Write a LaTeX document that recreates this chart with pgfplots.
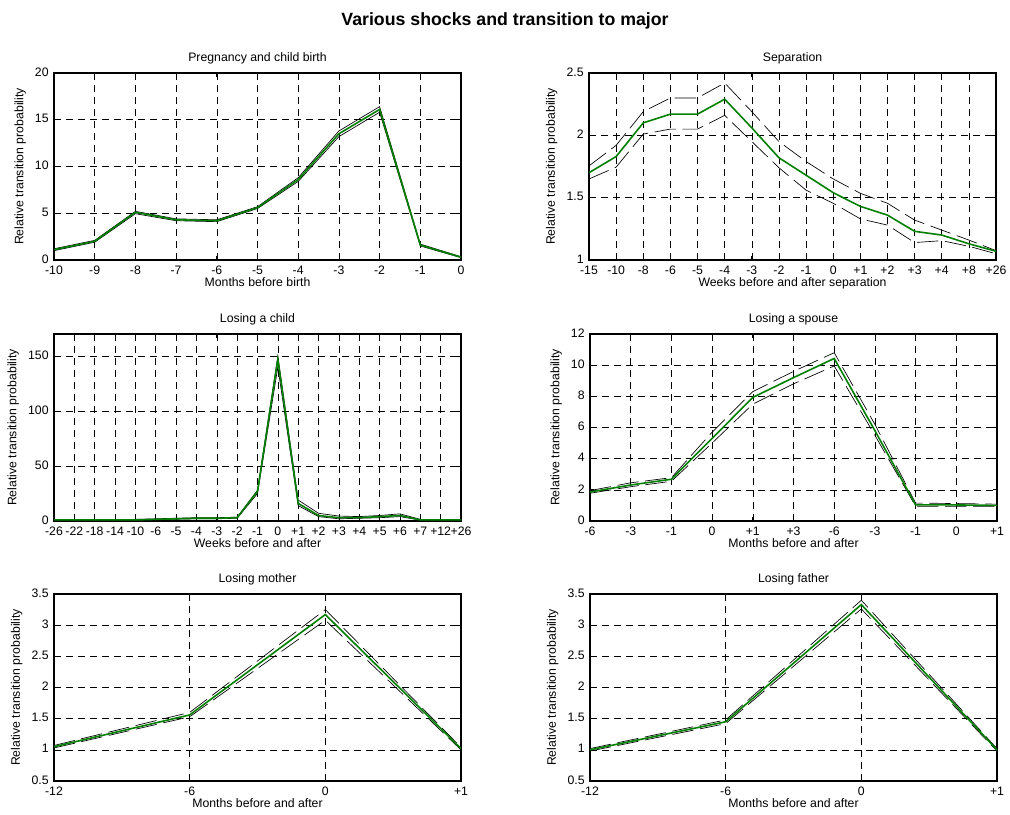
\documentclass[border=0pt]{standalone}
\usepackage{fontspec}
\setmainfont{Liberation Sans}
\usepackage{pgfplots}
\pgfplotsset{compat=1.18}
\definecolor{mgreen}{RGB}{0,128,0}
\pgfplotsset{
 myax/.style={
  width=305.25pt, height=140.25pt, scale only axis,
  font=\fontsize{9.2}{11}\selectfont,
  /pgf/number format/assume math mode=true,
  ticklabel style={font=\fontsize{9.2}{11}\selectfont},
  xticklabel style={yshift=-1pt},
  yticklabel style={xshift=-0.5pt, yshift=0.8pt},
  title style={font=\fontsize{9.2}{11}\selectfont, yshift=-3pt},
  xlabel style={yshift=5pt},
  xmajorgrids, ymajorgrids,
  major grid style={black, line width=0.45pt, dash pattern=on 5.5pt off 3.5pt},
  axis line style={line width=0.8pt},
  tick align=inside, major tick length=3pt, tick style={black, line width=0.5pt},
  ylabel={Relative transition probability},
  enlargelimits=false, clip=true,
 },
 ci/.style={black, line width=0.5pt, dash pattern=on 16pt off 5pt},
 mn/.style={mgreen, line width=1.2pt},
}
\begin{document}
\begin{tikzpicture}
\useasboundingbox (0,0) rectangle (757.5pt,610.5pt);
\node[font=\bfseries\fontsize{13.3}{15}\selectfont] at (378.75pt,595pt) {Various shocks and transition to major};

% Pregnancy
\begin{axis}[myax, at={(40.5pt,415.5pt)}, anchor=south west,
  title={Pregnancy and child birth}, xlabel={Months before birth},
  xmin=0, xmax=10, ymin=0, ymax=20, ytick={0,5,10,15,20},
  xtick={0,...,10}, xticklabels={-10,-9,-8,-7,-6,-5,-4,-3,-2,-1,0}]
\addplot[black, line width=0.5pt] coordinates {(0,1.2)(1,2.1)(2,5.2)(3,4.4)(4,4.3)(5,5.7)(6,8.8)(7,13.8)(8,16.4)(9,1.7)(10,0.35)};
\addplot[black, line width=0.5pt] coordinates {(0,1.0)(1,1.9)(2,4.95)(3,4.2)(4,4.1)(5,5.5)(6,8.4)(7,13.2)(8,15.8)(9,1.5)(10,0.25)};
\addplot[mn] coordinates {(0,1.1)(1,2.0)(2,5.1)(3,4.3)(4,4.2)(5,5.6)(6,8.6)(7,13.5)(8,16.1)(9,1.6)(10,0.3)};
\end{axis}

% Separation
\begin{axis}[myax, at={(441.75pt,415.5pt)}, anchor=south west,
  title={Separation}, xlabel={Weeks before and after separation},
  xmin=0, xmax=15, ymin=1, ymax=2.5, ytick={1,1.5,2,2.5},
  xtick={0,...,15}, xticklabels={-15,-10,-8,-6,-5,-4,-3,-2,-1,0,+1,+2,+3,+4,+8,+26}]
\addplot[ci] coordinates {(0,1.755)(1,1.92)(2,2.19)(3,2.30)(4,2.30)(5,2.42)(6,2.19)(7,1.95)(8,1.79)(9,1.65)(10,1.535)(11,1.455)(12,1.32)(13,1.24)(14,1.16)(15,1.075)};
\addplot[ci] coordinates {(0,1.65)(1,1.745)(2,2.01)(3,2.05)(4,2.05)(5,2.16)(6,1.95)(7,1.74)(8,1.56)(9,1.455)(10,1.33)(11,1.28)(12,1.14)(13,1.155)(14,1.11)(15,1.05)};
\addplot[mn] coordinates {(0,1.70)(1,1.83)(2,2.10)(3,2.17)(4,2.17)(5,2.29)(6,2.06)(7,1.82)(8,1.68)(9,1.54)(10,1.43)(11,1.36)(12,1.23)(13,1.20)(14,1.13)(15,1.07)};
\end{axis}

% Losing a child
\begin{axis}[myax, at={(40.5pt,219.75pt)}, anchor=south west,
  title={Losing a child}, xlabel={Weeks before and after},
  xmin=0, xmax=20, ymin=0, ymax=170, ytick={0,50,100,150},
  xtick={0,...,20}, xticklabels={-26,-22,-18,-14,-10,-6,-5,-4,-3,-2,-1,0,+1,+2,+3,+4,+5,+6,+7,+12,+26},
  xticklabel style={inner xsep=0pt}]
\addplot[black, line width=0.5pt] coordinates {(0,1.5)(1,1.5)(2,1.5)(3,1.5)(4,1.5)(5,2)(6,2.5)(7,3)(8,3)(9,3.5)(10,28)(11,150)(12,19)(13,7)(14,4.5)(15,4)(16,5)(17,6.5)(18,1.5)(19,1.5)(20,1.5)};
\addplot[black, line width=0.5pt] coordinates {(0,0.8)(1,0.8)(2,0.8)(3,0.8)(4,0.8)(5,1.2)(6,1.6)(7,2)(8,2)(9,2.5)(10,25)(11,140)(12,14)(13,4)(14,2)(15,2.5)(16,3)(17,4)(18,0.8)(19,0.8)(20,0.8)};
\addplot[mn] coordinates {(0,1)(1,1)(2,1)(3,1)(4,1)(5,1.5)(6,2)(7,2.5)(8,2.5)(9,3)(10,27)(11,147)(12,16)(13,5)(14,3)(15,3)(16,4)(17,5)(18,1)(19,1)(20,1)};
\end{axis}

% Losing a spouse
\begin{axis}[myax, at={(442.5pt,219.75pt)}, anchor=south west,
  title={Losing a spouse}, xlabel={Months before and after},
  xmin=0, xmax=10, ymin=0, ymax=12, ytick={0,2,...,12},
  xtick={0,...,10}, xticklabels={-6,-3,-1,0,+1,+3,-6,-3,-1,0,+1}]
\addplot[ci] coordinates {(0,1.95)(1,2.45)(2,2.78)(3,5.7)(4,8.3)(5,9.6)(6,10.8)(7,6.2)(8,1.15)(9,1.12)(10,1.08)};
\addplot[ci] coordinates {(0,1.78)(1,2.2)(2,2.55)(3,5.0)(4,7.5)(5,8.8)(6,9.95)(7,5.5)(8,0.95)(9,0.95)(10,0.95)};
\addplot[mn] coordinates {(0,1.86)(1,2.31)(2,2.68)(3,5.3)(4,7.93)(5,9.2)(6,10.43)(7,5.8)(8,1.03)(9,1.03)(10,1.0)};
\end{axis}

% Losing mother
\begin{axis}[myax, at={(40.5pt,24.75pt)}, anchor=south west,
  title={Losing mother}, xlabel={Months before and after},
  xmin=0, xmax=3, ymin=0.5, ymax=3.5, ytick={0.5,1,...,3.5},
  xtick={0,...,3}, xticklabels={-12,-6,0,+1}]
\addplot[ci] coordinates {(0,1.07)(1,1.6)(2,3.25)(3,1.04)};
\addplot[ci] coordinates {(0,1.03)(1,1.53)(2,3.08)(3,1.0)};
\addplot[mn] coordinates {(0,1.05)(1,1.56)(2,3.17)(3,1.02)};
\end{axis}

% Losing father
\begin{axis}[myax, at={(442.5pt,24.75pt)}, anchor=south west,
  title={Losing father}, xlabel={Months before and after},
  xmin=0, xmax=3, ymin=0.5, ymax=3.5, ytick={0.5,1,...,3.5},
  xtick={0,...,3}, xticklabels={-12,-6,0,+1}]
\addplot[ci] coordinates {(0,1.02)(1,1.48)(2,3.4)(3,1.02)};
\addplot[ci] coordinates {(0,0.98)(1,1.42)(2,3.26)(3,0.98)};
\addplot[mn] coordinates {(0,1.0)(1,1.45)(2,3.33)(3,1.0)};
\end{axis}
\end{tikzpicture}
\end{document}
